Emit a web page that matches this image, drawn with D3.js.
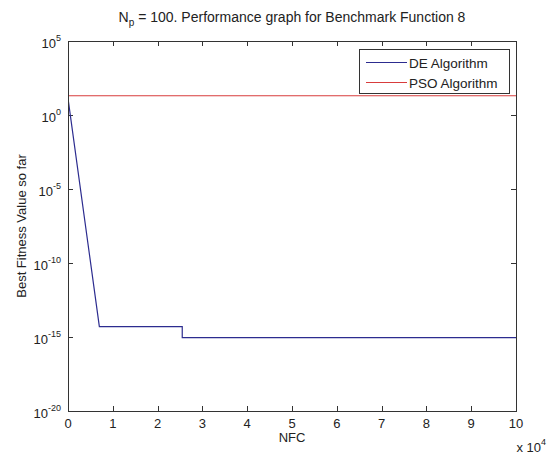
<!DOCTYPE html>
<html><head><meta charset="utf-8">
<script src="https://cdn.jsdelivr.net/npm/d3@7"></script>
<style>
body{margin:0;background:#fff;}
text{font-family:"Liberation Sans",Arial,sans-serif;fill:#222;}
</style></head>
<body><svg id="c" width="551" height="455"></svg>
<script>
// Data
const deNFC   = [0, 7000, 25500, 25500, 100000];
const deVal   = [13.5, 5e-15, 5e-15, 9e-16, 9e-16];
const psoNFC  = [0, 100000];
const psoVal  = [20, 20];
const xTicks  = [0,1,2,3,4,5,6,7,8,9,10];   // x 10^4
const yTickExp = [5, 0, -5, -10, -15, -20];
const seriesNames = ["DE Algorithm", "PSO Algorithm"];
const seriesColors = ["#2c2c8f", "#d83c3c"];

const svg = d3.select("#c");
const L = 68, R = 516, T = 41, B = 411;
const x = d3.scaleLinear().domain([0, 10]).range([L, R]);
const y = d3.scaleLog().domain([1e-20, 1e5]).range([B, T]);

svg.append("rect").attr("x", L).attr("y", T).attr("width", R - L).attr("height", B - T)
  .attr("fill", "#fff");

const axisColor = "#333";
const tl = 5;
xTicks.forEach(v => {
  const px = Math.round(x(v)) + 0.5;
  svg.append("line").attr("x1", px).attr("x2", px).attr("y1", B).attr("y2", B - tl).attr("stroke", axisColor);
  svg.append("line").attr("x1", px).attr("x2", px).attr("y1", T).attr("y2", T + tl).attr("stroke", axisColor);
  svg.append("text").attr("x", x(v)).attr("y", 428).attr("text-anchor", "middle")
    .attr("font-size", 13).text(v);
});
yTickExp.forEach(e => {
  const py = Math.round(y(Math.pow(10, e))) + 0.5;
  svg.append("line").attr("x1", L).attr("x2", L + tl).attr("y1", py).attr("y2", py).attr("stroke", axisColor);
  svg.append("line").attr("x1", R).attr("x2", R - tl).attr("y1", py).attr("y2", py).attr("stroke", axisColor);
  const t = svg.append("text").attr("x", 61).attr("y", py + 6).attr("text-anchor", "end").attr("font-size", 13);
  t.append("tspan").text("10");
  t.append("tspan").attr("dy", -7).attr("font-size", 9).text(String(e));
});

const line = d3.line().x(d => x(d[0] / 1e4)).y(d => y(d[1]));
svg.append("clipPath").attr("id", "clp").append("rect").attr("x", L).attr("y", T).attr("width", R - L).attr("height", B - T);

svg.append("path").datum(deNFC.map((v, i) => [v, deVal[i]])).attr("d", line)
  .attr("fill", "none").attr("stroke", seriesColors[0]).attr("stroke-width", 1.2).attr("clip-path", "url(#clp)");
svg.append("path").datum(psoNFC.map((v, i) => [v, psoVal[i]])).attr("d", line)
  .attr("fill", "none").attr("stroke", seriesColors[1]).attr("stroke-width", 1.2).attr("clip-path", "url(#clp)");

svg.append("rect").attr("x", L + 0.5).attr("y", T + 0.5).attr("width", R - L).attr("height", B - T)
  .attr("fill", "none").attr("stroke", "#333").attr("stroke-width", 1);

// legend
const lg = svg.append("g");
lg.append("rect").attr("x", 359.5).attr("y", 49.5).attr("width", 150).attr("height", 44)
  .attr("fill", "#fff").attr("stroke", "#333");
const rowsY = [62.5, 82.5];
seriesNames.forEach((n, i) => {
  lg.append("line").attr("x1", 366).attr("x2", 407).attr("y1", rowsY[i]).attr("y2", rowsY[i])
    .attr("stroke", seriesColors[i]).attr("stroke-width", 1.2);
  lg.append("text").attr("x", 409).attr("y", rowsY[i] + 5).attr("font-size", 13.5).text(n);
});

// title
const tt = svg.append("text").attr("x", (L + R) / 2).attr("y", 22).attr("text-anchor", "middle").attr("font-size", 14);
tt.append("tspan").text("N");
tt.append("tspan").attr("dy", 4).attr("font-size", 10).text("p");
tt.append("tspan").attr("dy", -4).text(" = 100. Performance graph for Benchmark Function 8");

svg.append("text").attr("x", (L + R) / 2).attr("y", 442).attr("text-anchor", "middle").attr("font-size", 13).text("NFC");
const xm = svg.append("text").attr("x", 546).attr("y", 452).attr("text-anchor", "end").attr("font-size", 13);
xm.append("tspan").text("x 10");
xm.append("tspan").attr("dy", -7).attr("font-size", 9).text("4");
svg.append("text").attr("transform", `translate(26,${(T + B) / 2}) rotate(-90)`).attr("text-anchor", "middle")
  .attr("font-size", 13).text("Best Fitness Value so far");
</script></body></html>
